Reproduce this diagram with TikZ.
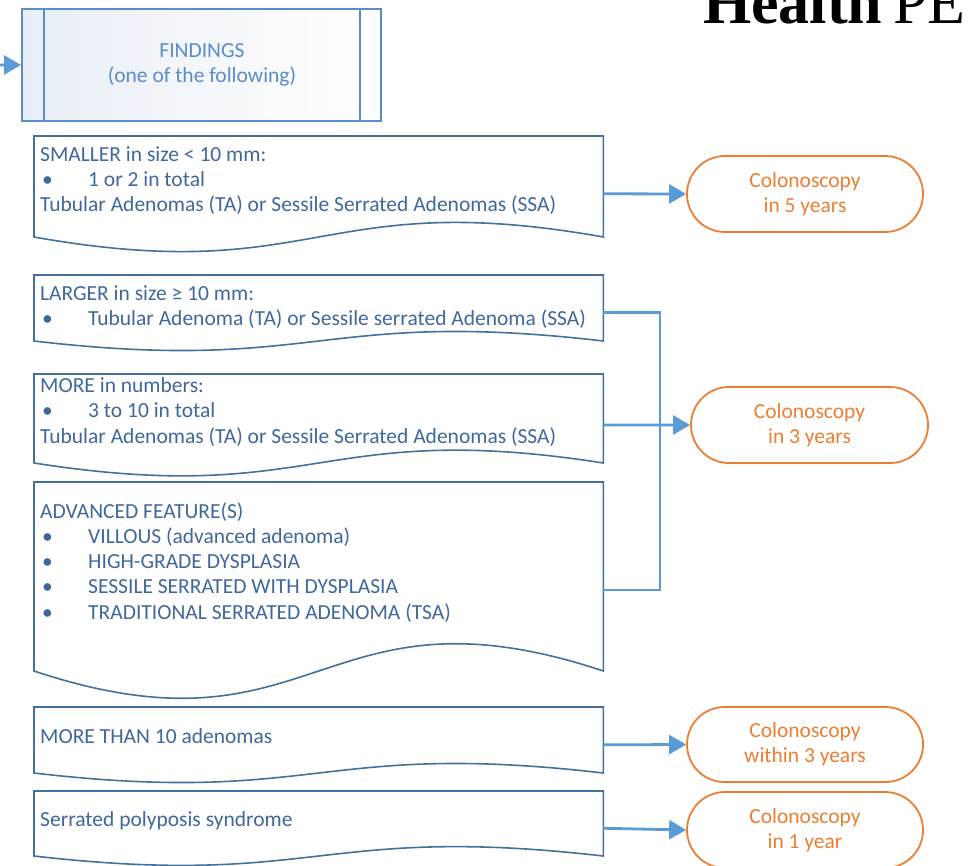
\documentclass[tikz,border=0pt]{standalone}
\usepackage{fontspec}
\setmainfont{Carlito}
\newfontfamily\logofont{Liberation Serif}
\usetikzlibrary{arrows.meta,calc,shapes.misc}
\definecolor{boxblue}{RGB}{65,113,156}
\definecolor{txtblue}{RGB}{62,104,156}
\definecolor{lightblue}{RGB}{91,140,200}
\definecolor{arrowblue}{RGB}{91,155,213}
\definecolor{orng}{RGB}{237,125,49}
\definecolor{fillgrad}{RGB}{232,238,246}
\newcommand\bul{\makebox[48pt][l]{\hspace{2pt}•}}
\newcommand\docbox[3]{% name, top, h
  \node[docnode, minimum height=1.14*#3pt] (#1) at (34,#2) {};
  \draw[boxline] ($(#1.north west)+(0,#3)$) -- (#1.north west) -- (#1.north east) -- ($(#1.north east)+(0,#3)$)
    .. controls ($(#1.north)+(0,0.5*#3)$) and ($(#1.north)+(0,1.5*#3)$) .. ($(#1.north west)+(0,#3)$) -- cycle;
}
\begin{document}
\begin{tikzpicture}[x=1pt,y=-1pt,
  boxline/.style={draw=boxblue,line width=1.6pt,line join=miter},
  docnode/.style={rectangle,inner sep=0pt,minimum width=569pt,anchor=north west},
  txt/.style={inner sep=0pt,anchor=base west,text=txtblue,font=\fontsize{21.5}{25}\selectfont},
  term/.style={rounded rectangle,draw=orng,line width=1.8pt,minimum width=236pt,minimum height=76pt,
    text=orng,align=center,font=\fontsize{21.5}{25}\selectfont,inner sep=0pt},
  conn/.style={draw=arrowblue,line width=2.8pt},
  arr/.style={conn,-{Triangle[length=17pt,width=19pt]}},
]
\useasboundingbox (0,0) rectangle (968,865);
\clip (0,0) rectangle (968,865);

% logo
\node[anchor=base west,inner sep=0pt,font=\logofont\bfseries\fontsize{62}{62}\selectfont] (logoA) at (703,23) {Health};
\node[anchor=base west,inner sep=0pt,font=\logofont\fontsize{62}{62}\selectfont] (logoB) at (893,23) {PE};

% findings
\node[draw=lightblue,line width=1.8pt,left color=fillgrad,right color=white,minimum width=359pt,
  minimum height=112pt,anchor=north west,inner sep=0pt] (findings) at (21,8) {};
\draw[draw=lightblue,line width=1.8pt] ($(findings.north west)+(23,0)$) -- ($(findings.south west)+(23,0)$);
\draw[draw=lightblue,line width=1.8pt] ($(findings.north east)+(-22,0)$) -- ($(findings.south east)+(-22,0)$);
\node[text=lightblue,align=center,inner sep=0pt,font=\fontsize{21.5}{25}\selectfont] (findtxt) at (202,64.5) {FINDINGS\\(one of the following)};
\coordinate (start) at (-5,65);
\draw[arr] (start) -- (findings.west);

% document boxes
\docbox{b1}{136}{101}
\docbox{b2}{275}{66}
\docbox{b3}{374}{89}
\docbox{b4}{482}{189}
\docbox{b5}{707}{66}
\docbox{b6}{791}{65}

\node[txt] (b1l1) at (40,161) {SMALLER in size < 10 mm:};
\node[txt] (b1l2) at (40,186) {\bul 1 or 2 in total};
\node[txt] (b1l3) at (40,211) {Tubular Adenomas (TA) or Sessile Serrated Adenomas (SSA)};

\node[txt] (b2l1) at (40,300) {LARGER in size ≥ 10 mm:};
\node[txt] (b2l2) at (40,325) {\bul Tubular Adenoma (TA) or Sessile serrated Adenoma (SSA)};

\node[txt] (b3l1) at (40,392) {MORE in numbers:};
\node[txt] (b3l2) at (40,417) {\bul 3 to 10 in total};
\node[txt] (b3l3) at (40,443) {Tubular Adenomas (TA) or Sessile Serrated Adenomas (SSA)};

\node[txt] (b4l1) at (40,518) {ADVANCED FEATURE(S)};
\node[txt] (b4l2) at (40,543) {\bul VILLOUS (advanced adenoma)};
\node[txt] (b4l3) at (40,568) {\bul HIGH-GRADE DYSPLASIA};
\node[txt] (b4l4) at (40,593) {\bul SESSILE SERRATED WITH DYSPLASIA};
\node[txt] (b4l5) at (40,619) {\bul TRADITIONAL SERRATED ADENOMA (TSA)};

\node[txt] (b5l1) at (40,743) {MORE THAN 10 adenomas};
\node[txt] (b6l1) at (40,826) {Serrated polyposis syndrome};

% terminals
\node[term] (t1) at (805,194) {Colonoscopy\\in 5 years};
\node[term,minimum width=237pt] (t2) at (809.5,425) {Colonoscopy\\in 3 years};
\node[term,minimum height=75pt] (t3) at (805,744.5) {Colonoscopy\\within 3 years};
\node[term] (t4) at (805,830) {Colonoscopy\\in 1 year};

% connectors
\coordinate (bus) at (660,425);
\draw[arr] (b1.east) -- (t1.west);
\draw[conn] (b2.east) -| (bus) |- (b4.east);
\draw[arr] (b3.east) -- (t2.west);
\draw[arr] (b5.east) -- (t3.west);
\draw[arr] (b6.east) -- (t4.west);
\end{tikzpicture}
\end{document}
